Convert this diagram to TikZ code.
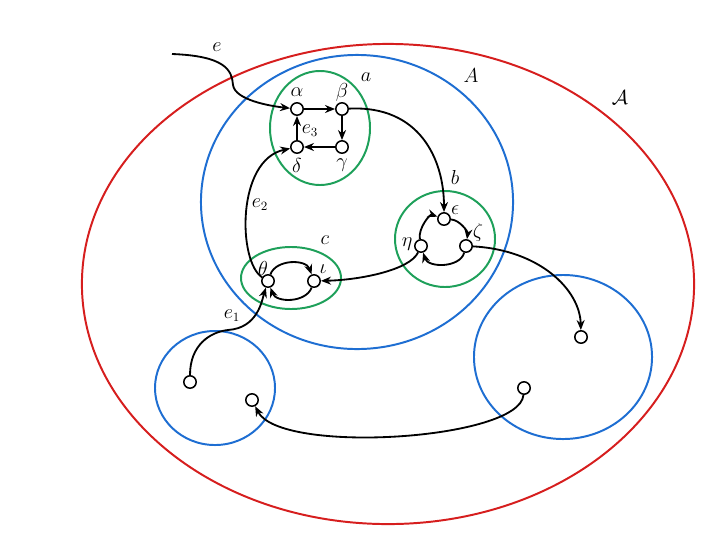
\documentclass[tikz,border=0pt]{standalone}
\usetikzlibrary{arrows.meta}
\definecolor{cred}{RGB}{214,30,30}
\definecolor{cblue}{RGB}{30,110,210}
\definecolor{cgreen}{RGB}{30,160,90}
\begin{document}
\begin{tikzpicture}[x=0.025cm,y=-0.025cm,
 vert/.style={circle,draw,fill=white,inner sep=0pt,minimum size=0.31cm,line width=1.1pt},
 edge/.style={line width=1.3pt,-{Stealth[length=2.5mm,width=2mm]}},
 region/.style={line width=1.4pt},
 lab/.style={inner sep=0pt,font=\fontsize{13.5}{16}\selectfont}]
\useasboundingbox (0,0) rectangle (720,540);
% regions
\draw[region,cred] (388,284) ellipse [x radius=7.65cm, y radius=6cm];
\draw[region,cblue] (357,202) ellipse [x radius=3.9cm, y radius=3.675cm];
\draw[region,cblue] (215,388) ellipse [x radius=1.5cm, y radius=1.425cm];
\draw[region,cblue] (563,357) ellipse [x radius=2.225cm, y radius=2.05cm];
\draw[region,cgreen] (320,128) ellipse [x radius=1.25cm, y radius=1.425cm];
\draw[region,cgreen] (445,239) ellipse [x radius=1.25cm, y radius=1.2cm];
\draw[region,cgreen] (291,278) ellipse [x radius=1.25cm, y radius=0.775cm];
% vertices
\node[vert] (al) at (297,109) {};
\node[vert] (be) at (342,109) {};
\node[vert] (ga) at (342,147) {};
\node[vert] (de) at (297,147) {};
\node[vert] (ep) at (444,219) {};
\node[vert] (ze) at (466,246) {};
\node[vert] (et) at (421,246) {};
\node[vert] (th) at (268,281) {};
\node[vert] (io) at (314,281) {};
\node[vert] (bl1) at (190,382) {};
\node[vert] (bl2) at (252,400) {};
\node[vert] (br1) at (581,337) {};
\node[vert] (br2) at (524,388) {};
\coordinate (estart) at (172,54);
% labels
\node[lab] at (217,47) {$e$};
\node[lab] at (366,77) {$a$};
\node[lab] at (471,76) {$A$};
\node[lab] at (620,98) {$\mathcal{A}$};
\node[lab] at (297,92) {$\alpha$};
\node[lab] at (342,92) {$\beta$};
\node[lab] at (310,131) {$e_3$};
\node[lab] at (297,165) {$\delta$};
\node[lab] at (342,165) {$\gamma$};
\node[lab] at (260,205) {$e_2$};
\node[lab] at (455,177) {$b$};
\node[lab] at (455,210) {$\epsilon$};
\node[lab] at (478,232) {$\zeta$};
\node[lab] at (407,244) {$\eta$};
\node[lab] at (325,240) {$c$};
\node[lab] at (263,268) {$\theta$};
\node[lab] at (323,269) {$\iota$};
\node[lab] at (232,316) {$e_1$};
% edges
\draw[edge] (estart) .. controls (225,56) and (232,70) .. (233,85) .. controls (235,100) and (270,106) .. (al);
\draw[edge] (al) -- (be);
\draw[edge] (be) -- (ga);
\draw[edge] (ga) -- (de);
\draw[edge] (de) -- (al);
\draw[edge] (be) .. controls (420,105) and (444,160) .. (ep);
\draw[edge] (th) .. controls (238,262) and (236,160) .. (de);
\draw[edge] (bl1) .. controls (190,345) and (210,332) .. (228,330) .. controls (258,328) and (262,300) .. (th);
\draw[edge] (th) .. controls (276,259) and (306,259) .. (io);
\draw[edge] (io) .. controls (306,303) and (276,303) .. (th);
\draw[edge] (et) .. controls (418,228) and (430,214) .. (ep);
\draw[edge] (ep) .. controls (460,220) and (468,232) .. (ze);
\draw[edge] (ze) .. controls (460,268) and (428,268) .. (et);
\draw[edge] (et) .. controls (410,270) and (360,280) .. (io);
\draw[edge] (ze) .. controls (540,250) and (580,290) .. (br1);
\draw[edge] (br2) .. controls (520,440) and (280,455) .. (bl2);
\end{tikzpicture}
\end{document}
